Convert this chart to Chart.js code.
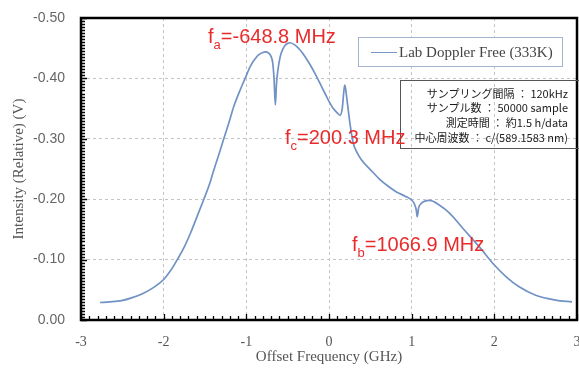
<!DOCTYPE html>
<html>
<head>
<meta charset="utf-8">
<script src="https://cdn.jsdelivr.net/npm/chart.js@4"></script>
<style>
html,body{margin:0;padding:0;background:#fff;}
#wrap{position:relative;width:579px;height:370px;overflow:hidden;background:#fff;}
#c{position:absolute;left:0;top:0;}
.red{position:absolute;color:#e92b2b;font-family:"Liberation Sans",Arial,sans-serif;font-size:20px;line-height:20px;white-space:nowrap;}
.red sub{font-size:13px;line-height:0;vertical-align:-6px;}
#legend{position:absolute;left:358px;top:37px;width:203px;height:28px;border:1.5px solid #a3b5cf;background:#fff;}
#legend .ln{position:absolute;left:12px;top:14px;width:26px;height:0;border-top:1.5px solid #7494c4;}
#legend .tx{position:absolute;left:40px;top:0;line-height:28px;font-family:"Liberation Serif","DejaVu Serif",serif;font-size:15px;color:#444;white-space:nowrap;}
#info{position:absolute;left:400px;top:80px;width:200px;height:67px;border:1px solid #555;}
.row{position:absolute;right:11px;font-family:"Noto Sans CJK JP",sans-serif;font-size:11px;line-height:14px;color:#1a1a1a;white-space:nowrap;text-align:right;}
</style>
</head>
<body>
<div id="wrap">
<canvas id="c" width="579" height="370"></canvas>
<div id="legend"><div class="ln"></div><div class="tx">Lab Doppler Free (333K)</div></div>
<div id="info"></div>
<div class="row" style="top:86px">サンプリング間隔 ： 120kHz</div>
<div class="row" style="top:100px">サンプル数 ： 50000 sample</div>
<div class="row" style="top:115px">測定時間 ： 約1.5 h/data</div>
<div class="row" style="top:130px">中心周波数 ： c/(589.1583 nm)</div>
<div class="red" style="left:208px;top:26px">f<sub>a</sub>=-648.8 MHz</div>
<div class="red" style="left:285px;top:127px">f<sub>c</sub>=200.3 MHz</div>
<div class="red" style="left:352px;top:234px">f<sub>b</sub>=1066.9 MHz</div>
</div>
<script>
// ---- data ----
const seriesName = 'Lab Doppler Free (333K)';
const freqGHz = [-2.77,-2.65,-2.51,-2.38,-2.25,-2.12,-2.00,-1.92,-1.835,-1.75,-1.675,-1.60,-1.514,-1.45,-1.394,-1.33,-1.273,-1.21,-1.153,-1.08,-1.012,-0.952,-0.89,-0.852,-0.80,-0.77,-0.73,-0.70,-0.68,-0.665,-0.649,-0.635,-0.62,-0.59,-0.56,-0.53,-0.50,-0.47,-0.41,-0.35,-0.289,-0.23,-0.169,-0.11,-0.048,0.00,0.052,0.10,0.133,0.16,0.175,0.190,0.200,0.213,0.235,0.253,0.293,0.34,0.394,0.514,0.62,0.72,0.816,0.92,0.996,1.03,1.055,1.067,1.085,1.117,1.217,1.337,1.458,1.618,1.819,2.00,2.14,2.30,2.50,2.74,2.94];
const intensityV = [-0.029,-0.030,-0.032,-0.037,-0.044,-0.054,-0.067,-0.081,-0.100,-0.121,-0.144,-0.170,-0.200,-0.223,-0.248,-0.275,-0.300,-0.327,-0.353,-0.379,-0.401,-0.420,-0.433,-0.439,-0.443,-0.444,-0.442,-0.436,-0.425,-0.400,-0.356,-0.392,-0.412,-0.436,-0.448,-0.455,-0.458,-0.459,-0.455,-0.447,-0.436,-0.423,-0.408,-0.392,-0.375,-0.362,-0.350,-0.343,-0.339,-0.350,-0.372,-0.389,-0.384,-0.370,-0.345,-0.326,-0.293,-0.277,-0.265,-0.247,-0.232,-0.221,-0.212,-0.205,-0.199,-0.193,-0.183,-0.171,-0.186,-0.193,-0.198,-0.190,-0.177,-0.152,-0.121,-0.091,-0.072,-0.055,-0.041,-0.033,-0.030];
const xTickValues = [-3,-2,-1,0,1,2,3];
const xTickLabels = ['-3','-2','-1','0','1','2','3'];
const yTickValues = [0,-0.1,-0.2,-0.3,-0.4,-0.5];
const yTickLabels = ['0.00','-0.10','-0.20','-0.30','-0.40','-0.50'];
const xMinorStep = 0.1;
const yMinorStep = 0.005;

const points = freqGHz.map((f,i)=>({x:f,y:intensityV[i]}));

const frameTicks = {
  id:'frameTicks',
  afterDraw(chart){
    const {ctx, chartArea:a, scales:{x,y}} = chart;
    ctx.save();
    ctx.strokeStyle = '#000';
    ctx.lineWidth = 1.3;
    ctx.beginPath();
    const ny = Math.round((y.max - y.min)/yMinorStep);
    for (let i=0;i<=ny;i++){
      const v = y.min + i*yMinorStep;
      const py = Math.round(y.getPixelForValue(v))+0.5;
      const len = (i % 20 === 0) ? 6 : 4;
      ctx.moveTo(a.left, py); ctx.lineTo(a.left+len, py);
    }
    const nx = Math.round((x.max - x.min)/xMinorStep);
    for (let i=0;i<=nx;i++){
      const v = x.min + i*xMinorStep;
      const px = Math.round(x.getPixelForValue(v))+0.5;
      const len = (i % 10 === 0) ? 6 : 4;
      ctx.moveTo(px, a.bottom); ctx.lineTo(px, a.bottom-len);
    }
    ctx.stroke();
    ctx.lineWidth = 2.5;
    ctx.strokeRect(a.left, a.top, a.right-a.left, a.bottom-a.top);
    ctx.restore();
  }
};

new Chart(document.getElementById('c'), {
  type:'line',
  data:{datasets:[{
    label: seriesName,
    data: points,
    borderColor:'#7092c4',
    borderWidth:1.7,
    pointRadius:0,
    fill:false,
    cubicInterpolationMode:'monotone'
  }]},
  options:{
    responsive:false,
    animation:false,
    devicePixelRatio:1,
    layout:{padding:{top:18,right:2,left:0,bottom:0}},
    plugins:{legend:{display:false},tooltip:{enabled:false}},
    scales:{
      x:{
        type:'linear', min:-3, max:3,
        afterBuildTicks(s){ s.ticks = xTickValues.map(v=>({value:v})); },
        afterFit(s){ s.height = 50; s.paddingLeft = 0; s.paddingRight = 0; },
        ticks:{ callback:(v,i)=>xTickLabels[i], padding:14, maxRotation:0, autoSkip:false,
          color:'#555', font:{family:'"Liberation Serif", serif', size:14} },
        grid:{ color:'#c4c4c4', lineWidth:1, drawTicks:false },
        border:{ display:false, dash:[3,3] },
        title:{ display:true, text:'Offset Frequency (GHz)', color:'#555',
          font:{family:'"Liberation Serif", serif', size:15}, padding:{top:0,bottom:4} }
      },
      y:{
        type:'linear', min:-0.5, max:0, reverse:true,
        afterBuildTicks(s){ s.ticks = yTickValues.map(v=>({value:v})); },
        afterFit(s){ s.width = 81; s.paddingTop = 0; s.paddingBottom = 0; },
        ticks:{ callback:(v,i)=>yTickLabels[i], padding:16, autoSkip:false,
          color:'#666', font:{family:'"Liberation Sans", Arial, sans-serif', size:14} },
        grid:{ color:'#c4c4c4', lineWidth:1, drawTicks:false },
        border:{ display:false, dash:[3,3] },
        title:{ display:true, text:'Intensity (Relative) (V)', color:'#555',
          font:{family:'"Liberation Serif", serif', size:15}, padding:{top:10,bottom:0} }
      }
    }
  },
  plugins:[frameTicks]
});
</script>
</body>
</html>
